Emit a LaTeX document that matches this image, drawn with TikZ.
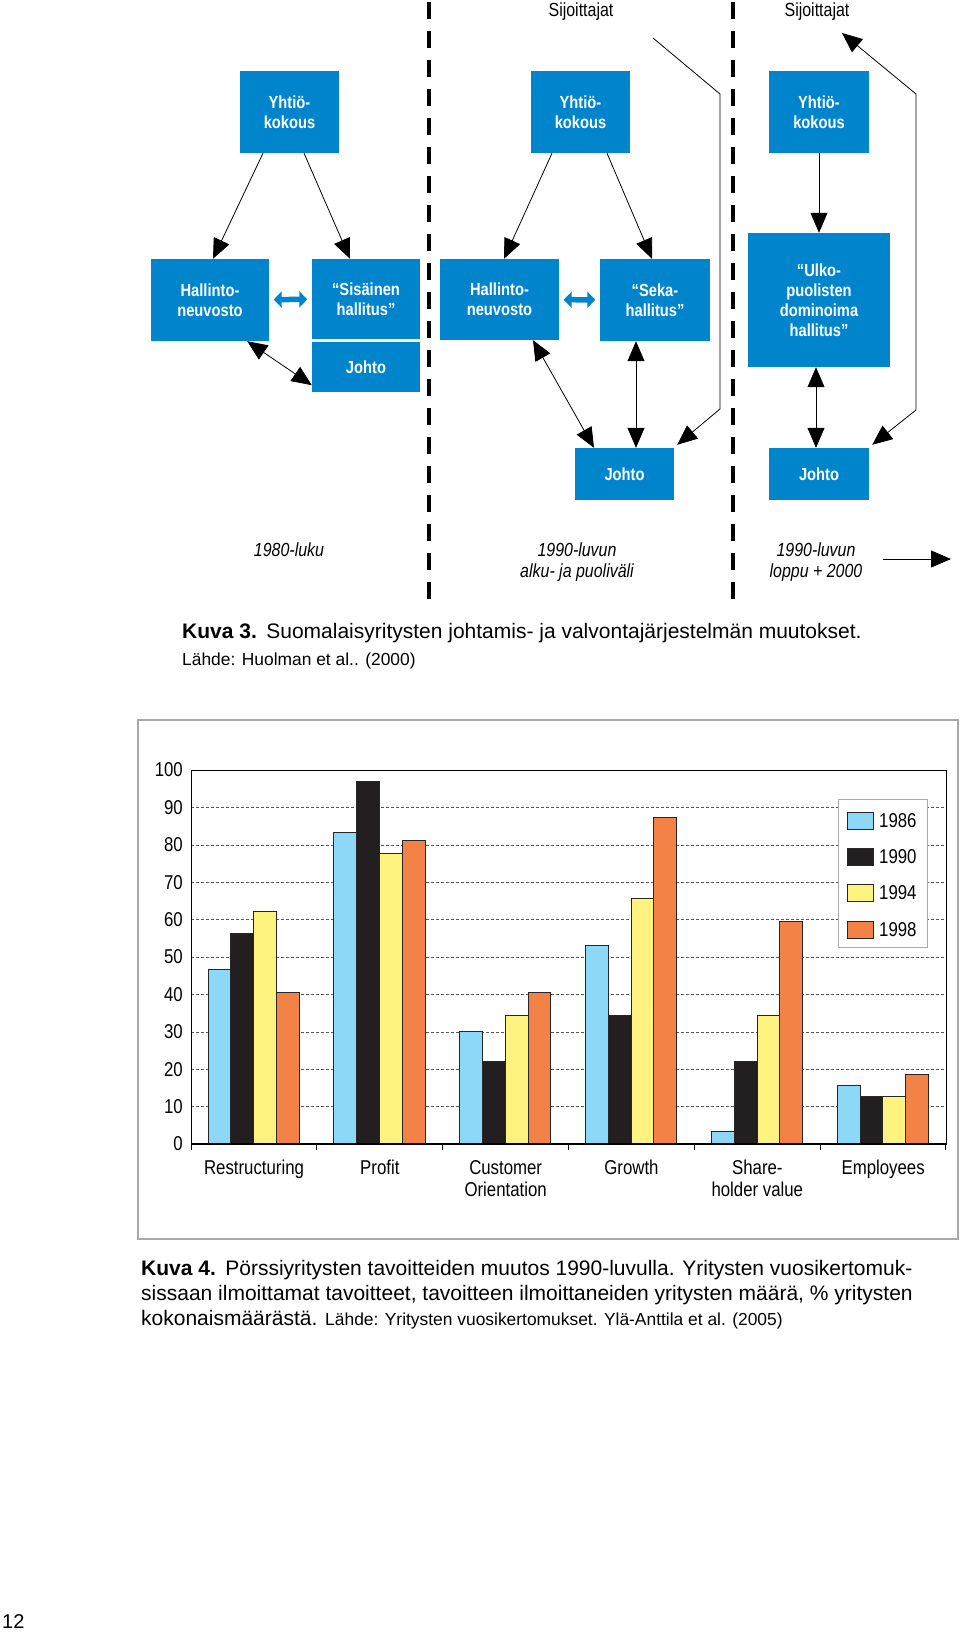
\documentclass[tikz,border=0pt]{standalone}
\usepackage{fontspec}
\setmainfont{Liberation Sans}
\newfontfamily\cnfont{Liberation Sans}[FakeStretch=0.84]
\usetikzlibrary{arrows.meta}
\definecolor{boxblue}{RGB}{0,133,204}
\definecolor{barblue}{RGB}{140,216,246}
\definecolor{barblack}{RGB}{35,31,32}
\definecolor{baryellow}{RGB}{255,243,128}
\definecolor{barorange}{RGB}{243,130,70}
\definecolor{framegray}{RGB}{170,170,170}

\begin{document}
\begin{tikzpicture}[x=1pt, y=-1pt, >={Triangle[length=20pt,width=17pt]},
    orgbox/.style={fill=boxblue, text=white, inner sep=0pt, align=center,
      font=\cnfont\bfseries\fontsize{17.5}{20}\selectfont},
    conn/.style={line width=0.8pt},
    fat/.style={boxblue, line width=5.5pt, shorten <=4.5pt, shorten >=4.5pt,
      arrows={Triangle[length=8pt,width=16pt]-Triangle[length=8pt,width=16pt]}},
    divider/.style={line width=3.3pt, dash pattern=on 17pt off 12pt},
    era/.style={font=\cnfont\itshape\fontsize{19}{21}\selectfont, align=center,
      inner sep=0pt, anchor=north},
    chartlab/.style={font=\cnfont\fontsize{20}{22}\selectfont, inner sep=0pt},
    gridline/.style={black!65, line width=0.6pt, dash pattern=on 3pt off 2pt},
    barbox/.style={draw=black!85, line width=0.8pt}]
  \useasboundingbox (0,0) rectangle (960,1633);
  \fill[white] (0,0) rectangle (960,1633);

  % periods
  \draw[divider] (429,2) -- (429,600);
  \draw[divider] (733,2) -- (733,600);
  \node[font=\cnfont\fontsize{19}{22}\selectfont, anchor=base, inner sep=0pt] (sj1) at (581,16) {Sijoittajat};
  \node[font=\cnfont\fontsize{19}{22}\selectfont, anchor=base, inner sep=0pt] (sj2) at (817,16) {Sijoittajat};

  % 1980-luku
  \node[orgbox, minimum width=99pt, minimum height=82pt] (y1) at (289.5,112) {Yhtiö-\\kokous};
  \node[orgbox, minimum width=118pt, minimum height=82pt] (h1) at (210,300) {Hallinto-\\neuvosto};
  \node[orgbox, minimum width=108pt, minimum height=80pt] (s1) at (366,299) {“Sisäinen\\hallitus”};
  \node[orgbox, minimum width=108pt, minimum height=50pt] (j1) at (366,367) {Johto};
  \draw[conn,->] ([xshift=-26.5pt]y1.south) -- ([xshift=3pt]h1.north);
  \draw[conn,->] ([xshift=14.5pt]y1.south) -- ([xshift=-16pt]s1.north);
  \draw[fat] (h1) -- (s1);
  \draw[conn,<->] ([xshift=-22pt]h1.south east) -- ([yshift=7pt]j1.south west);

  % 1990-luvun alku
  \node[orgbox, minimum width=99pt, minimum height=82pt] (y2) at (580.5,112) {Yhtiö-\\kokous};
  \node[orgbox, minimum width=119pt, minimum height=81pt] (h2) at (499.5,299.5) {Hallinto-\\neuvosto};
  \node[orgbox, minimum width=110pt, minimum height=82pt] (s2) at (655,300) {“Seka-\\hallitus”};
  \node[orgbox, minimum width=99pt, minimum height=52pt] (j2) at (624.5,474) {Johto};
  \draw[conn,->] ([xshift=-28.5pt]y2.south) -- ([xshift=4.5pt]h2.north);
  \draw[conn,->] ([xshift=26.5pt]y2.south) -- ([xshift=-3pt]s2.north);
  \draw[fat] (h2) -- (s2);
  \draw[conn,<->] ([xshift=33.5pt]h2.south) -- ([xshift=-30.5pt]j2.north);
  \draw[conn,<->] ([xshift=11.5pt]j2.north |- s2.south) -- ([xshift=11.5pt]j2.north);
  \coordinate (c1) at (653,38);
  \draw[conn,->] (c1) -- (720,94) -- (720,409) -- ([xshift=3pt,yshift=3pt]j2.north east);

  % 1990-luvun loppu
  \node[orgbox, minimum width=100pt, minimum height=82pt] (y3) at (819,112) {Yhtiö-\\kokous};
  \node[orgbox, minimum width=142pt, minimum height=134pt] (u3) at (819,300) {“Ulko-\\puolisten\\dominoima\\hallitus”};
  \node[orgbox, minimum width=100pt, minimum height=52pt] (j3) at (819,474) {Johto};
  \draw[conn,->] (y3) -- (u3);
  \draw[conn,<->] ([xshift=-3pt]j3.north |- u3.south) -- ([xshift=-3pt]j3.north);
  \coordinate (c2) at (842,33);
  \draw[conn,<->] ([xshift=3pt,yshift=3pt]j3.north east) -- (916,410) -- (916,94) -- (c2);

  % time axis
  \node[era] (e1) at (289,543) {1980-luku};
  \node[era] (e2) at (577,543) {1990-luvun\\alku- ja puoliväli};
  \node[era] (e3) at (816,543) {1990-luvun\\loppu + 2000};
  \coordinate (t0) at (883,559);
  \coordinate (t1) at (951,559);
  \draw[conn,->] (t0) -- (t1);

  \node[anchor=base west, inner sep=0pt, font=\fontsize{21}{25}\selectfont] (cap3) at (182,638)
    {\textbf{Kuva 3.}\hspace{0.45em}Suomalaisyritysten johtamis- ja valvontajärjestelmän muutokset.};
  \node[anchor=base west, inner sep=0pt, font=\fontsize{17.4}{20}\selectfont] (src3) at (182,665)
    {Lähde: Huolman et al.. (2000)};

  % chart
  \draw[framegray, line width=1.2pt] (138,720) rectangle (958,1239);
  \foreach \v in {10,20,...,90}
    \draw[gridline] (191,{1144-3.74*\v}) -- (946,{1144-3.74*\v});
  \foreach \c/\a/\b/\d/\e in {0/46.8/56.4/62.3/40.6, 1/83.2/97/77.8/81.3, 2/30.2/22/34.5/40.6,
      3/53.2/34.5/65.8/87.4, 4/3.5/22/34.5/59.4, 5/15.7/12.6/12.6/18.7}{
    \pgfmathsetmacro\xl{208+125.83*\c}
    \draw[barbox, fill=barblue]   (\xl,1144) rectangle ++(22.8,{-3.74*\a});
    \draw[barbox, fill=barblack]  ({\xl+22.8},1144) rectangle ++(22.8,{-3.74*\b});
    \draw[barbox, fill=baryellow] ({\xl+45.6},1144) rectangle ++(22.8,{-3.74*\d});
    \draw[barbox, fill=barorange] ({\xl+68.4},1144) rectangle ++(22.8,{-3.74*\e});
  }
  \draw[line width=1pt] (191,770) rectangle (946,1144);
  \draw[line width=1.5pt] (191,1144) -- (946,1144);
  \foreach \k in {0,...,6}
    \draw[line width=1pt] ({191+125.83*\k},1144) -- ++(0,6);
  \foreach \v in {0,10,...,100}
    \node[chartlab, anchor=east] (yl\v) at (183,{1144-3.74*\v}) {\v};
  \foreach \c/\txt in {0/Restructuring, 1/Profit, 2/{Customer\\Orientation}, 3/Growth,
      4/{Share-\\holder value}, 5/Employees}
    \node[chartlab, anchor=north, align=center] (cat\c) at ({254+125.83*\c},1160) {\txt};
  \draw[framegray, fill=white, line width=1pt] (838,799) rectangle (927,947);
  \foreach \i/\yr/\col in {0/1986/barblue, 1/1990/barblack, 2/1994/baryellow, 3/1998/barorange}{
    \draw[barbox, fill=\col] (847,{812+36.3*\i}) rectangle ++(26,17);
    \node[chartlab, anchor=west] (leg\yr) at (879,{820.5+36.3*\i}) {\yr};
  }

  \node[anchor=north west, align=left, inner sep=0pt, font=\fontsize{21}{25}\selectfont] (cap4) at (141,1260)
    {\textbf{Kuva 4.}\hspace{0.45em}Pörssiyritysten tavoitteiden muutos 1990-luvulla. Yritysten vuosikertomuk-\\
     sissaan ilmoittamat tavoitteet, tavoitteen ilmoittaneiden yritysten määrä, \% yritysten\\
     kokonaismäärästä. {\fontsize{17.4}{25}\selectfont Lähde: Yritysten vuosikertomukset. Ylä-Anttila et al. (2005)}};
  \node[anchor=base west, inner sep=0pt, font=\fontsize{20}{24}\selectfont] (page) at (2,1628) {12};
\end{tikzpicture}
\end{document}
